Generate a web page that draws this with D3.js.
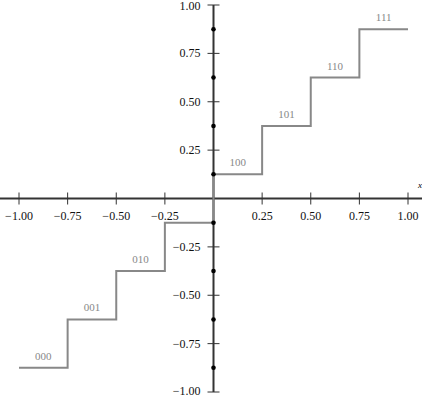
<!DOCTYPE html>
<html>
<head>
<meta charset="utf-8">
<script src="https://cdn.jsdelivr.net/npm/d3@7"></script>
<style>
  body { margin: 0; background: #fff; }
  text { font-family: "Liberation Serif", "DejaVu Serif", serif; }
</style>
</head>
<body>
<div id="chart"></div>
<script>
// quantizer levels: step edges, output values and codes
let edges = [-1, -0.75, -0.5, -0.25, 0, 0.25, 0.5, 0.75, 1];
let levels = [-0.875, -0.625, -0.375, -0.125, 0.125, 0.375, 0.625, 0.875];
let codes = ["000", "001", "010", "", "100", "101", "110", "111"]; // 011 hidden under the axis labels
let xTicks = [-1, -0.75, -0.5, -0.25, 0, 0.25, 0.5, 0.75, 1];
let yTicks = [-1, -0.75, -0.5, -0.25, 0, 0.25, 0.5, 0.75, 1];

let width = 422, height = 397;

let svg = d3.select("#chart").append("svg")
    .attr("width", width)
    .attr("height", height);

let x = d3.scaleLinear().domain([-1, 1]).range([19, 408]);
let y = d3.scaleLinear().domain([-1, 1]).range([392, 5]);

let fmt = d => d3.format(".2f")(d).replace("-", "\u2212");

// x axis
let xAxis = svg.append("g")
    .attr("transform", "translate(0," + y(0) + ")");
xAxis.append("line")
    .attr("x1", 0).attr("x2", width)
    .attr("stroke", "#333").attr("stroke-width", 2);
xAxis.selectAll(".tick")
    .data(xTicks)
    .enter().append("line")
    .attr("x1", d => x(d)).attr("x2", d => x(d))
    .attr("y1", -6).attr("y2", 6)
    .attr("stroke", "#333").attr("stroke-width", 1);
xAxis.selectAll(".lbl")
    .data(xTicks.filter(d => d !== 0))
    .enter().append("text")
    .attr("x", d => x(d))
    .attr("y", 21)
    .attr("text-anchor", "middle")
    .attr("font-size", 12)
    .attr("fill", "#111")
    .text(fmt);
xAxis.append("text")
    .attr("x", 418).attr("y", -11)
    .attr("font-size", 9)
    .attr("font-style", "italic")
    .text("x");

// y axis
let yAxis = svg.append("g")
    .attr("transform", "translate(" + x(0) + ",0)");
yAxis.append("line")
    .attr("y1", y(1)).attr("y2", y(-1))
    .attr("stroke", "#333").attr("stroke-width", 2);
yAxis.selectAll(".tick")
    .data(yTicks)
    .enter().append("line")
    .attr("x1", -6).attr("x2", 6)
    .attr("y1", d => y(d)).attr("y2", d => y(d))
    .attr("stroke", "#333").attr("stroke-width", 1);
yAxis.selectAll(".lbl")
    .data(yTicks.filter(d => d !== 0))
    .enter().append("text")
    .attr("x", -13)
    .attr("y", d => Math.min(Math.max(y(d) + 4, 9.5), 395))
    .attr("text-anchor", "end")
    .attr("font-size", 12)
    .attr("fill", "#111")
    .text(fmt);

// staircase
let pts = [];
levels.forEach((v, i) => {
    pts.push([edges[i], v]);
    pts.push([edges[i + 1], v]);
});
svg.append("path")
    .attr("d", d3.line().x(d => x(d[0])).y(d => y(d[1]))(pts))
    .attr("fill", "none")
    .attr("stroke", "#888")
    .attr("stroke-width", 2);

// dots at output levels on y axis
svg.selectAll(".dot")
    .data(levels)
    .enter().append("circle")
    .attr("cx", x(0))
    .attr("cy", d => y(d))
    .attr("r", 2.3)
    .attr("fill", "#000");

// code labels
svg.selectAll(".code")
    .data(codes)
    .enter().append("text")
    .attr("x", (d, i) => x((edges[i] + edges[i + 1]) / 2))
    .attr("y", (d, i) => y(levels[i]) - 8)
    .attr("text-anchor", "middle")
    .attr("font-size", 11)
    .attr("fill", "#888")
    .text(d => d);
</script>
</body>
</html>
